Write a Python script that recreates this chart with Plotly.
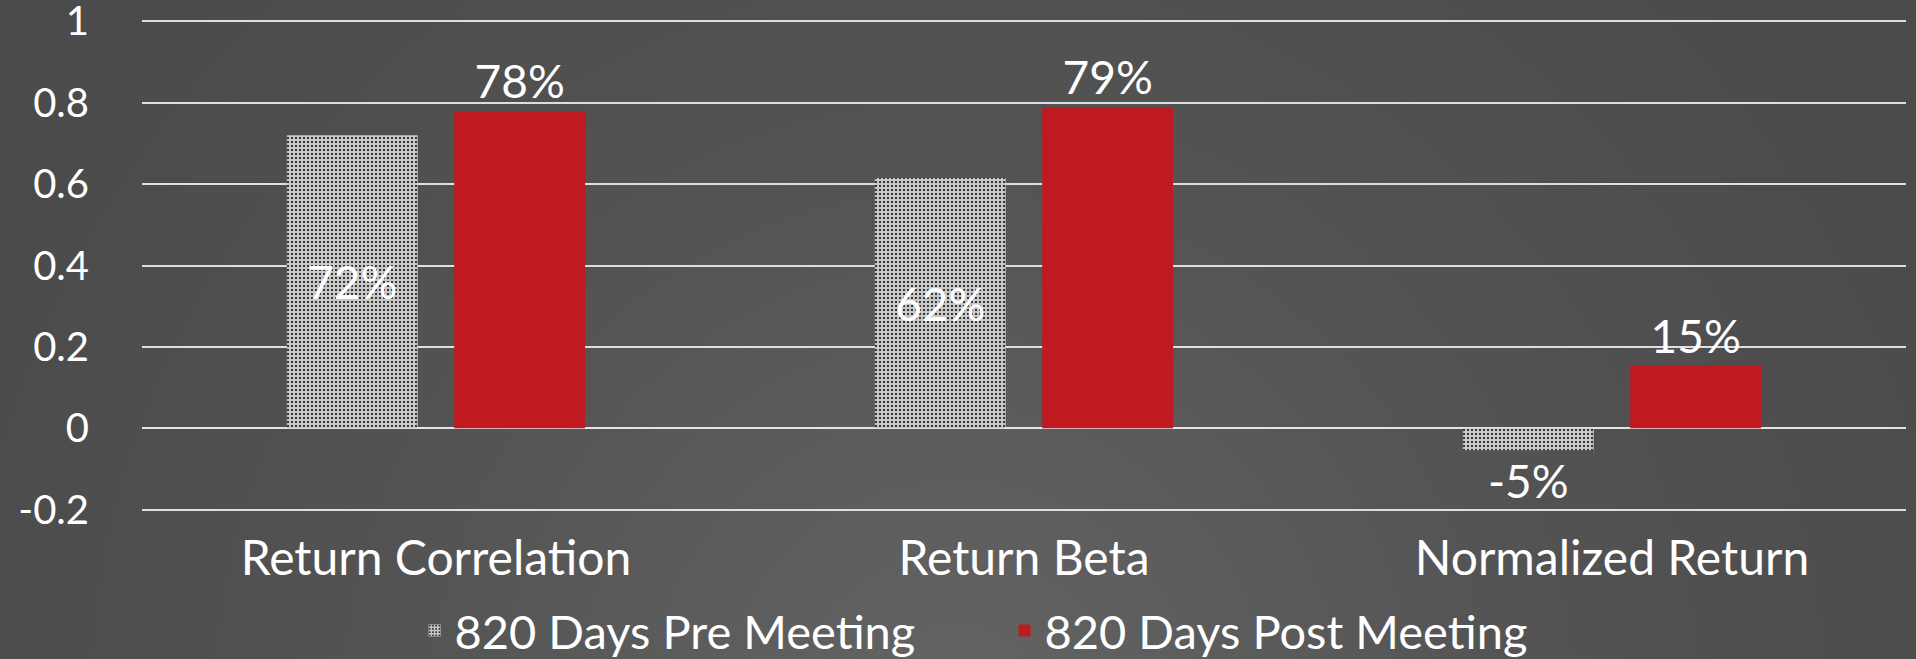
import base64
import plotly.graph_objects as go

categories = ["Return Correlation", "Return Beta", "Normalized Return"]
pre_values = [0.72, 0.615, -0.054]
post_values = [0.78, 0.789, 0.153]
series_names = ["820 Days Pre Meeting", "820 Days Post Meeting"]
tick_vals = [-0.2, 0, 0.2, 0.4, 0.6, 0.8, 1]
tick_text = ["-0.2", "0", "0.2", "0.4", "0.6", "0.8", "1"]

W, H = 1916, 659
ML, MR, MT, MB = 142, 10, 20, 148
FONT = "Lato"
WHITE = "#ffffff"
RED = "#be1a20"

def pct(v):
    return f"{round(v * 100)}%"

# radial-gradient background (as an SVG data URI image)
svg = f"""<svg xmlns='http://www.w3.org/2000/svg' width='{W}' height='{H}' viewBox='0 0 {W} {H}'>
<defs><radialGradient id='g' gradientUnits='userSpaceOnUse' cx='{W/2}' cy='{H+60}' r='1050'>
<stop offset='0' stop-color='#646464'/><stop offset='0.55' stop-color='#535353'/><stop offset='1' stop-color='#4b4b4b'/>
</radialGradient></defs><rect width='{W}' height='{H}' fill='url(#g)'/></svg>"""
bg_uri = "data:image/svg+xml;base64," + base64.b64encode(svg.encode()).decode()

pw = W - ML - MR
ph = H - MT - MB

fig = go.Figure()
fig.add_trace(go.Bar(
    name=series_names[0], x=categories, y=pre_values,
    text=[pct(v) for v in pre_values],
    textposition=["inside" if v >= 0 else "outside" for v in pre_values],
    insidetextanchor="middle",
    textfont=dict(family=FONT, size=46, color=WHITE),
    outsidetextfont=dict(family=FONT, size=46, color=WHITE),
    insidetextfont=dict(family=FONT, size=46, color=WHITE),
    width=0.2225, offset=-0.2536,
    marker=dict(color="#c8c8c8", line=dict(width=0),
                pattern=dict(shape=".", fgcolor="#111111", bgcolor="#c8c8c8",
                             size=4, solidity=0.22, fillmode="replace")),
    cliponaxis=False, constraintext="none",
))
fig.add_trace(go.Bar(
    name=series_names[1], x=categories, y=post_values,
    text=[pct(v) for v in post_values],
    textposition="outside",
    textfont=dict(family=FONT, size=46, color=WHITE),
    width=0.2225, offset=0.031,
    marker=dict(color=RED, line=dict(width=0)),
    cliponaxis=False, constraintext="none",
))

fig.update_layout(
    width=W, height=H,
    margin=dict(l=ML, r=MR, t=MT, b=MB, pad=0, autoexpand=False),
    barmode="overlay",
    paper_bgcolor="#4e4e4e", plot_bgcolor="rgba(0,0,0,0)",
    font=dict(family=FONT, color=WHITE),
    showlegend=True,
    legend=dict(orientation="h", xref="container", x=0.5243, xanchor="center",
                yref="container", y=(H - 631) / H, yanchor="middle",
                font=dict(family=FONT, size=47, color=WHITE),
                bgcolor="rgba(0,0,0,0)", itemwidth=30, traceorder="normal",
                entrywidth=545, entrywidthmode="pixels"),
    images=[dict(source=bg_uri, xref="paper", yref="paper",
                 x=-ML / pw, y=1 + MT / ph, sizex=W / pw, sizey=H / ph,
                 xanchor="left", yanchor="top", sizing="stretch", layer="below")],
    xaxis=dict(showgrid=False, showline=False, zeroline=False, ticks="",
               automargin=False,
               tickfont=dict(family=FONT, size=48, color=WHITE),
               ticklabelstandoff=15),
    yaxis=dict(range=[-0.2035, 1.0035], tickvals=tick_vals, ticktext=tick_text,
               showgrid=True, gridcolor="#dedede", gridwidth=2,
               zeroline=True, zerolinecolor="#e4e4e4", zerolinewidth=2,
               showline=False, ticks="", ticklabeloverflow="allow",
               automargin=False,
               tickfont=dict(family=FONT, size=40, color=WHITE),
               ticklabelstandoff=52),
)

fig.write_html("out.html", config={"displayModeBar": False},
               post_script="document.body.style.margin='0px';")
